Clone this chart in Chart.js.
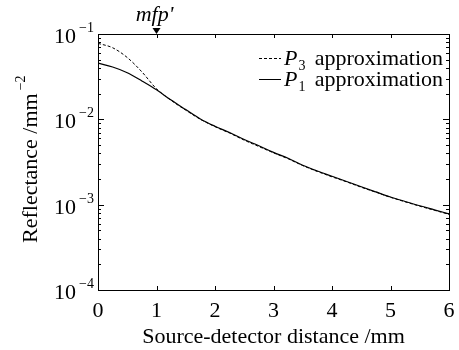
<!DOCTYPE html>
<html>
<head>
<meta charset="utf-8">
<script src="https://cdn.jsdelivr.net/npm/chart.js@4/dist/chart.umd.min.js"></script>
<style>
html,body{margin:0;padding:0;background:#fff;}
#wrap{width:459px;height:350px;position:relative;}
</style>
</head>
<body>
<div id="wrap"><canvas id="c" width="459" height="350"></canvas></div>
<script>
const distances = [0,0.25,0.5,0.75,1,1.25,1.5,1.75,2,2.25,2.5,2.75,3,3.25,3.5,3.75,4,4.25,4.5,4.75,5,5.25,5.5,5.75,6];
const p3Values = [0.0777,0.069,0.053,0.036,0.0228,0.0167,0.0128,0.0100,0.0082,0.0069,0.0057,0.0048,0.00405,0.00345,0.00287,0.00245,0.00212,0.00185,0.0016,0.0014,0.00122,0.00108,0.00096,0.00086,0.00077];
const p1Values = [0.0455,0.041,0.0352,0.0282,0.0222,0.0168,0.0130,0.0101,0.0083,0.0070,0.0058,0.0049,0.0041,0.0035,0.0029,0.00248,0.00215,0.00187,0.00162,0.00141,0.00123,0.00109,0.00097,0.00087,0.00078];
const xTicks = [0,1,2,3,4,5,6];
const yDecades = [-4,-3,-2,-1];
const legendNames = [["P","3","approximation"],["P","1","approximation"]];
const xTitle = "Source-detector distance /mm";
const yTitle = "Reflectance /mm";
const yTitleSup = "\u22122";
const markerLabel = "mfp'";
const markerX = 1;

const SERIF = '"Liberation Serif","Times New Roman",serif';

const toPts = (vals) => distances.map((d,i)=>({x:d,y:vals[i]}));

const deco = {
  id:'deco',
  afterDraw(chart){
    const ctx = chart.ctx, a = chart.chartArea;
    const xs = chart.scales.x, ys = chart.scales.y;
    ctx.save();
    ctx.strokeStyle = '#000'; ctx.fillStyle = '#000';
    ctx.lineWidth = 1;
    ctx.strokeRect(Math.round(a.left)+0.5, Math.round(a.top)+0.5, Math.round(a.right-a.left), Math.round(a.bottom-a.top));
    ctx.beginPath();
    yDecades.forEach((e)=>{
      const yy = Math.round(ys.getPixelForValue(Math.pow(10,e)))+0.5;
      ctx.moveTo(a.left, yy); ctx.lineTo(a.left+6, yy);
      ctx.moveTo(a.right, yy); ctx.lineTo(a.right-6, yy);
      if (e < -1) {
        for (let m=2;m<=9;m++){
          const py = Math.round(ys.getPixelForValue(m*Math.pow(10,e)))+0.5;
          ctx.moveTo(a.left, py); ctx.lineTo(a.left+3, py);
          ctx.moveTo(a.right, py); ctx.lineTo(a.right-3, py);
        }
      }
    });
    xTicks.forEach(t=>{
      const px = Math.round(xs.getPixelForValue(t))+0.5;
      ctx.moveTo(px, a.bottom); ctx.lineTo(px, a.bottom-4);
      ctx.moveTo(px, a.top); ctx.lineTo(px, a.top+4);
    });
    ctx.stroke();
    yDecades.forEach(e=>{
      const py = ys.getPixelForValue(Math.pow(10,e));
      ctx.font = '22px '+SERIF;
      ctx.textAlign = 'right'; ctx.textBaseline = 'alphabetic';
      ctx.fillText('10', 76, py+9);
      ctx.font = '14px '+SERIF;
      ctx.textAlign = 'left';
      ctx.fillText('\u2212'+Math.abs(e), 79, py-2);
    });
    ctx.save();
    ctx.translate(37, 243);
    ctx.rotate(-Math.PI/2);
    ctx.font = '22px '+SERIF;
    ctx.textAlign = 'left'; ctx.textBaseline = 'alphabetic';
    ctx.fillText(yTitle, 0, 0);
    const w = ctx.measureText(yTitle).width;
    ctx.font = '14px '+SERIF;
    ctx.fillText(yTitleSup, w+3, -12);
    ctx.restore();
    const rows = [{y:58, dash:[3,2]},{y:79, dash:[]}];
    rows.forEach((r,i)=>{
      ctx.save();
      ctx.setLineDash(r.dash);
      ctx.beginPath();
      ctx.moveTo(259, r.y+0.5); ctx.lineTo(281, r.y+0.5);
      ctx.stroke();
      ctx.restore();
      const base = r.y+7;
      ctx.textAlign='left'; ctx.textBaseline='alphabetic';
      ctx.font = 'italic 22px '+SERIF;
      ctx.fillText(legendNames[i][0], 284, base);
      const pw = ctx.measureText(legendNames[i][0]).width;
      ctx.font = '14px '+SERIF;
      ctx.fillText(legendNames[i][1], 284+pw+1, base+5);
      ctx.font = '22px '+SERIF;
      ctx.textAlign='right';
      ctx.fillText(legendNames[i][2], 443, base);
    });
    const mx = xs.getPixelForValue(markerX);
    ctx.beginPath();
    ctx.moveTo(mx-4, a.top-6); ctx.lineTo(mx+4, a.top-6); ctx.lineTo(mx, a.top); ctx.closePath();
    ctx.fill();
    ctx.font = 'italic 22px '+SERIF;
    ctx.textAlign='center';
    ctx.fillText(markerLabel, mx-2, 21);
    ctx.restore();
  }
};

new Chart(document.getElementById('c'), {
  type:'line',
  data:{
    datasets:[
      {label:'P3 approximation', data:toPts(p3Values), borderColor:'#000', borderWidth:1, borderDash:[3,2], pointRadius:0, fill:false, cubicInterpolationMode:'monotone'},
      {label:'P1 approximation', data:toPts(p1Values), borderColor:'#000', borderWidth:1.2, pointRadius:0, fill:false, cubicInterpolationMode:'monotone'}
    ]
  },
  options:{
    responsive:false, animation:false,
    layout:{padding:{top:34,right:10,left:0,bottom:0}},
    plugins:{legend:{display:false}, tooltip:{enabled:false}},
    scales:{
      x:{type:'linear', min:0, max:6,
        afterBuildTicks: s => { s.ticks = xTicks.map(v=>({value:v})); },
        ticks:{color:'#000', font:{family:SERIF, size:22}, padding:8, maxRotation:0},
        grid:{display:false, drawTicks:false}, border:{display:false},
        title:{display:true, text:xTitle, color:'#000', font:{family:SERIF, size:22}, padding:{top:0,bottom:0}},
        afterFit: s => { s.height = 60; s.paddingLeft = 0; s.paddingRight = 0; }
      },
      y:{type:'logarithmic', min:1e-4, max:1e-1,
        ticks:{display:false},
        grid:{display:false, drawTicks:false}, border:{display:false},
        afterFit: s => { s.width = 98; }
      }
    }
  },
  plugins:[deco]
});
</script>
</body>
</html>
